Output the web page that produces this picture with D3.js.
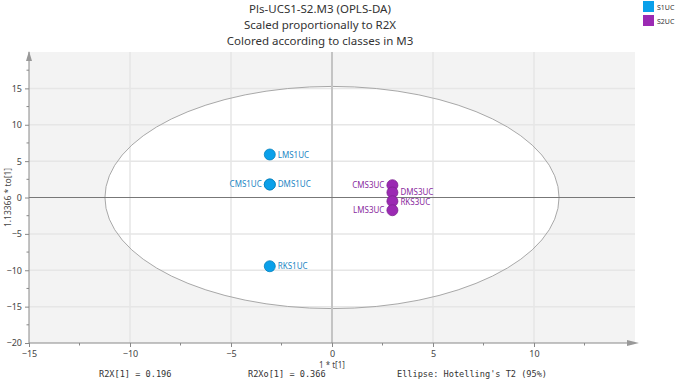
<!DOCTYPE html>
<html><head><meta charset="utf-8">
<script src="https://cdn.jsdelivr.net/npm/d3@7"></script>
<style>body{margin:0;background:#fff}svg{display:block}</style>
</head><body>
<script>
const titleLines = ["Pls-UCS1-S2.M3 (OPLS-DA)", "Scaled proportionally to R2X", "Colored according to classes in M3"];
const classes = ["S1UC", "S2UC"];
const classColors = ["#0aa0ea", "#9b2ab3"];
const labelColors = ["#1c86c4", "#8a2a9e"];
const obsNames = ["CMS1UC", "DMS1UC", "LMS1UC", "RKS1UC", "CMS3UC", "DMS3UC", "RKS3UC", "LMS3UC"];
const obsClass = [0, 0, 0, 0, 1, 1, 1, 1];
const t1 = [-3.08, -3.08, -3.08, -3.08, 2.99, 2.99, 2.99, 2.99];
const to1 = [1.79, 1.79, 5.91, -9.45, 1.69, 0.69, -0.51, -1.75];
const labelSide = ["left", "right", "right", "right", "left", "right", "right", "left"];
const xTicks = [-15, -10, -5, 0, 5, 10];
const yTicks = [-20, -15, -10, -5, 0, 5, 10, 15];
const ellipseA = 11.24, ellipseB = 15.27;
const footnotes = ["R2X[1] = 0.196", "R2Xo[1] = 0.366", "Ellipse: Hotelling's T2 (95%)"];
const xLabel = "1 * t[1]", yLabel = "1.13366 * to[1]";

const W = 677, H = 379;
const svg = d3.select("body").append("svg").attr("width", W).attr("height", H);
const x = d3.scaleLinear().domain([-15, 15]).range([29, 635]);
const y = d3.scaleLinear().domain([-20, 20]).range([343, 52]);
const font = "'Noto Sans', 'Open Sans', sans-serif";

// title
svg.append("g").selectAll("text").data(titleLines).join("text")
  .attr("x", 320).attr("y", (d, i) => 13 + i * 16)
  .attr("text-anchor", "middle").attr("font-family", font).attr("font-size", 11.5)
  .attr("fill", "#333").text(d => d);

// plot background
svg.append("rect").attr("x", x(-15)).attr("y", y(20)).attr("width", x(15) - x(-15)).attr("height", y(-20) - y(20)).attr("fill", "#f3f3f3");
// ellipse interior
svg.append("ellipse").attr("cx", x(0)).attr("cy", y(0))
  .attr("rx", x(ellipseA) - x(0)).attr("ry", y(0) - y(ellipseB)).attr("fill", "#fff");
// grid
const gx = xTicks.filter(d => d > -15 && d !== 0);
const gy = yTicks.filter(d => d > -20 && d !== 0);
svg.append("g").selectAll("line").data(gx).join("line")
  .attr("x1", d => x(d)).attr("x2", d => x(d)).attr("y1", y(20)).attr("y2", y(-20))
  .attr("stroke", "#e6e6e6").attr("stroke-width", 1.5);
svg.append("g").selectAll("line").data(gy).join("line")
  .attr("y1", d => y(d)).attr("y2", d => y(d)).attr("x1", x(-15)).attr("x2", x(15))
  .attr("stroke", "#e6e6e6").attr("stroke-width", 1.5);
// ellipse outline
svg.append("ellipse").attr("cx", x(0)).attr("cy", y(0))
  .attr("rx", x(ellipseA) - x(0)).attr("ry", y(0) - y(ellipseB))
  .attr("fill", "none").attr("stroke", "#a8a8a8").attr("stroke-width", 1);
// zero lines
svg.append("line").attr("x1", x(0)).attr("x2", x(0)).attr("y1", y(20)).attr("y2", y(-20))
  .attr("stroke", "#c4c4c4").attr("stroke-width", 2);
svg.append("line").attr("x1", x(-15)).attr("x2", x(15)).attr("y1", y(0)).attr("y2", y(0))
  .attr("stroke", "#777").attr("stroke-width", 1);

// axes
const xAxis = d3.axisBottom(x).tickValues(xTicks).tickSize(4).tickPadding(4).tickFormat(d3.format("d"));
const gxA = svg.append("g").attr("transform", `translate(0,${y(-20)})`).call(xAxis);
const yAxis = d3.axisLeft(y).tickValues(yTicks).tickSize(4).tickPadding(3).tickFormat(d3.format("d"));
const gyA = svg.append("g").attr("transform", `translate(${x(-15)},0)`).call(yAxis);
[gxA, gyA].forEach(g => {
  g.select(".domain").remove();
  g.selectAll("line").attr("stroke", "#888");
  g.selectAll("text").attr("font-family", font).attr("font-size", 9).attr("fill", "#444");
});
// minor ticks
svg.append("g").selectAll("line").data(d3.range(-12.5, 15, 5)).join("line")
  .attr("x1", d => x(d)).attr("x2", d => x(d)).attr("y1", y(-20)).attr("y2", y(-20) + 2.5).attr("stroke", "#888");
svg.append("g").selectAll("line").data(d3.range(-17.5, 20, 5)).join("line")
  .attr("y1", d => y(d)).attr("y2", d => y(d)).attr("x1", x(-15)).attr("x2", x(-15) - 2.5).attr("stroke", "#888");
// axis lines with arrows
svg.append("line").attr("x1", x(-15)).attr("x2", x(15)).attr("y1", y(-20)).attr("y2", y(-20)).attr("stroke", "#888");
svg.append("line").attr("x1", x(-15)).attr("x2", x(-15)).attr("y1", y(-20)).attr("y2", y(20)).attr("stroke", "#888");
svg.append("path").attr("d", `M${x(15)+4},${y(-20)} L${x(15)-8},${y(-20)-3} L${x(15)-8},${y(-20)+3} Z`).attr("fill", "#999");
svg.append("path").attr("d", `M${x(-15)},${y(20)-1} L${x(-15)-3},${y(20)+9} L${x(-15)+3},${y(20)+9} Z`).attr("fill", "#999");

// axis titles
svg.append("text").attr("x", x(0)).attr("y", 368).attr("text-anchor", "middle")
  .attr("font-family", font).attr("font-size", 8).attr("fill", "#444").text(xLabel);
svg.append("text").attr("transform", `translate(11,${y(0)}) rotate(-90)`).attr("text-anchor", "middle")
  .attr("font-family", font).attr("font-size", 8.5).attr("fill", "#444").text(yLabel);

// footnotes
const fx = [99, 248, 397];
svg.append("g").selectAll("text").data(footnotes).join("text")
  .attr("x", (d, i) => fx[i]).attr("y", 377)
  .attr("font-family", "'DejaVu Sans Mono', monospace").attr("font-size", 8.6).attr("fill", "#333").text(d => d);

// points
const obs = obsNames.map((n, i) => ({ n, c: obsClass[i], x: t1[i], y: to1[i], side: labelSide[i] }));
svg.append("g").selectAll("circle").data(obs).join("circle")
  .attr("cx", d => x(d.x)).attr("cy", d => y(d.y)).attr("r", 5.5)
  .attr("fill", d => classColors[d.c]).attr("stroke", d => d3.color(classColors[d.c]).darker(0.6)).attr("stroke-width", 0.8);
svg.append("g").selectAll("text").data(obs).join("text")
  .attr("x", d => x(d.x) + (d.side === "right" ? 8 : -8))
  .attr("y", d => y(d.y) + 3 + (d.n === "RKS3UC" ? 1 : 0) + (d.n === "DMS3UC" ? -0.5 : 0))
  .attr("text-anchor", d => d.side === "right" ? "start" : "end")
  .attr("font-family", font).attr("font-size", 8).attr("fill", d => labelColors[d.c]).text(d => d.n);

// legend
const lg = svg.append("g");
lg.selectAll("rect").data(classes).join("rect")
  .attr("x", 643).attr("y", (d, i) => 1 + i * 14).attr("width", 11).attr("height", 11)
  .attr("fill", (d, i) => classColors[i]);
lg.selectAll("text").data(classes).join("text")
  .attr("x", 657).attr("y", (d, i) => 9.5 + i * 14)
  .attr("font-family", font).attr("font-size", 7).attr("fill", "#333").text(d => d);
</script>
</body></html>
